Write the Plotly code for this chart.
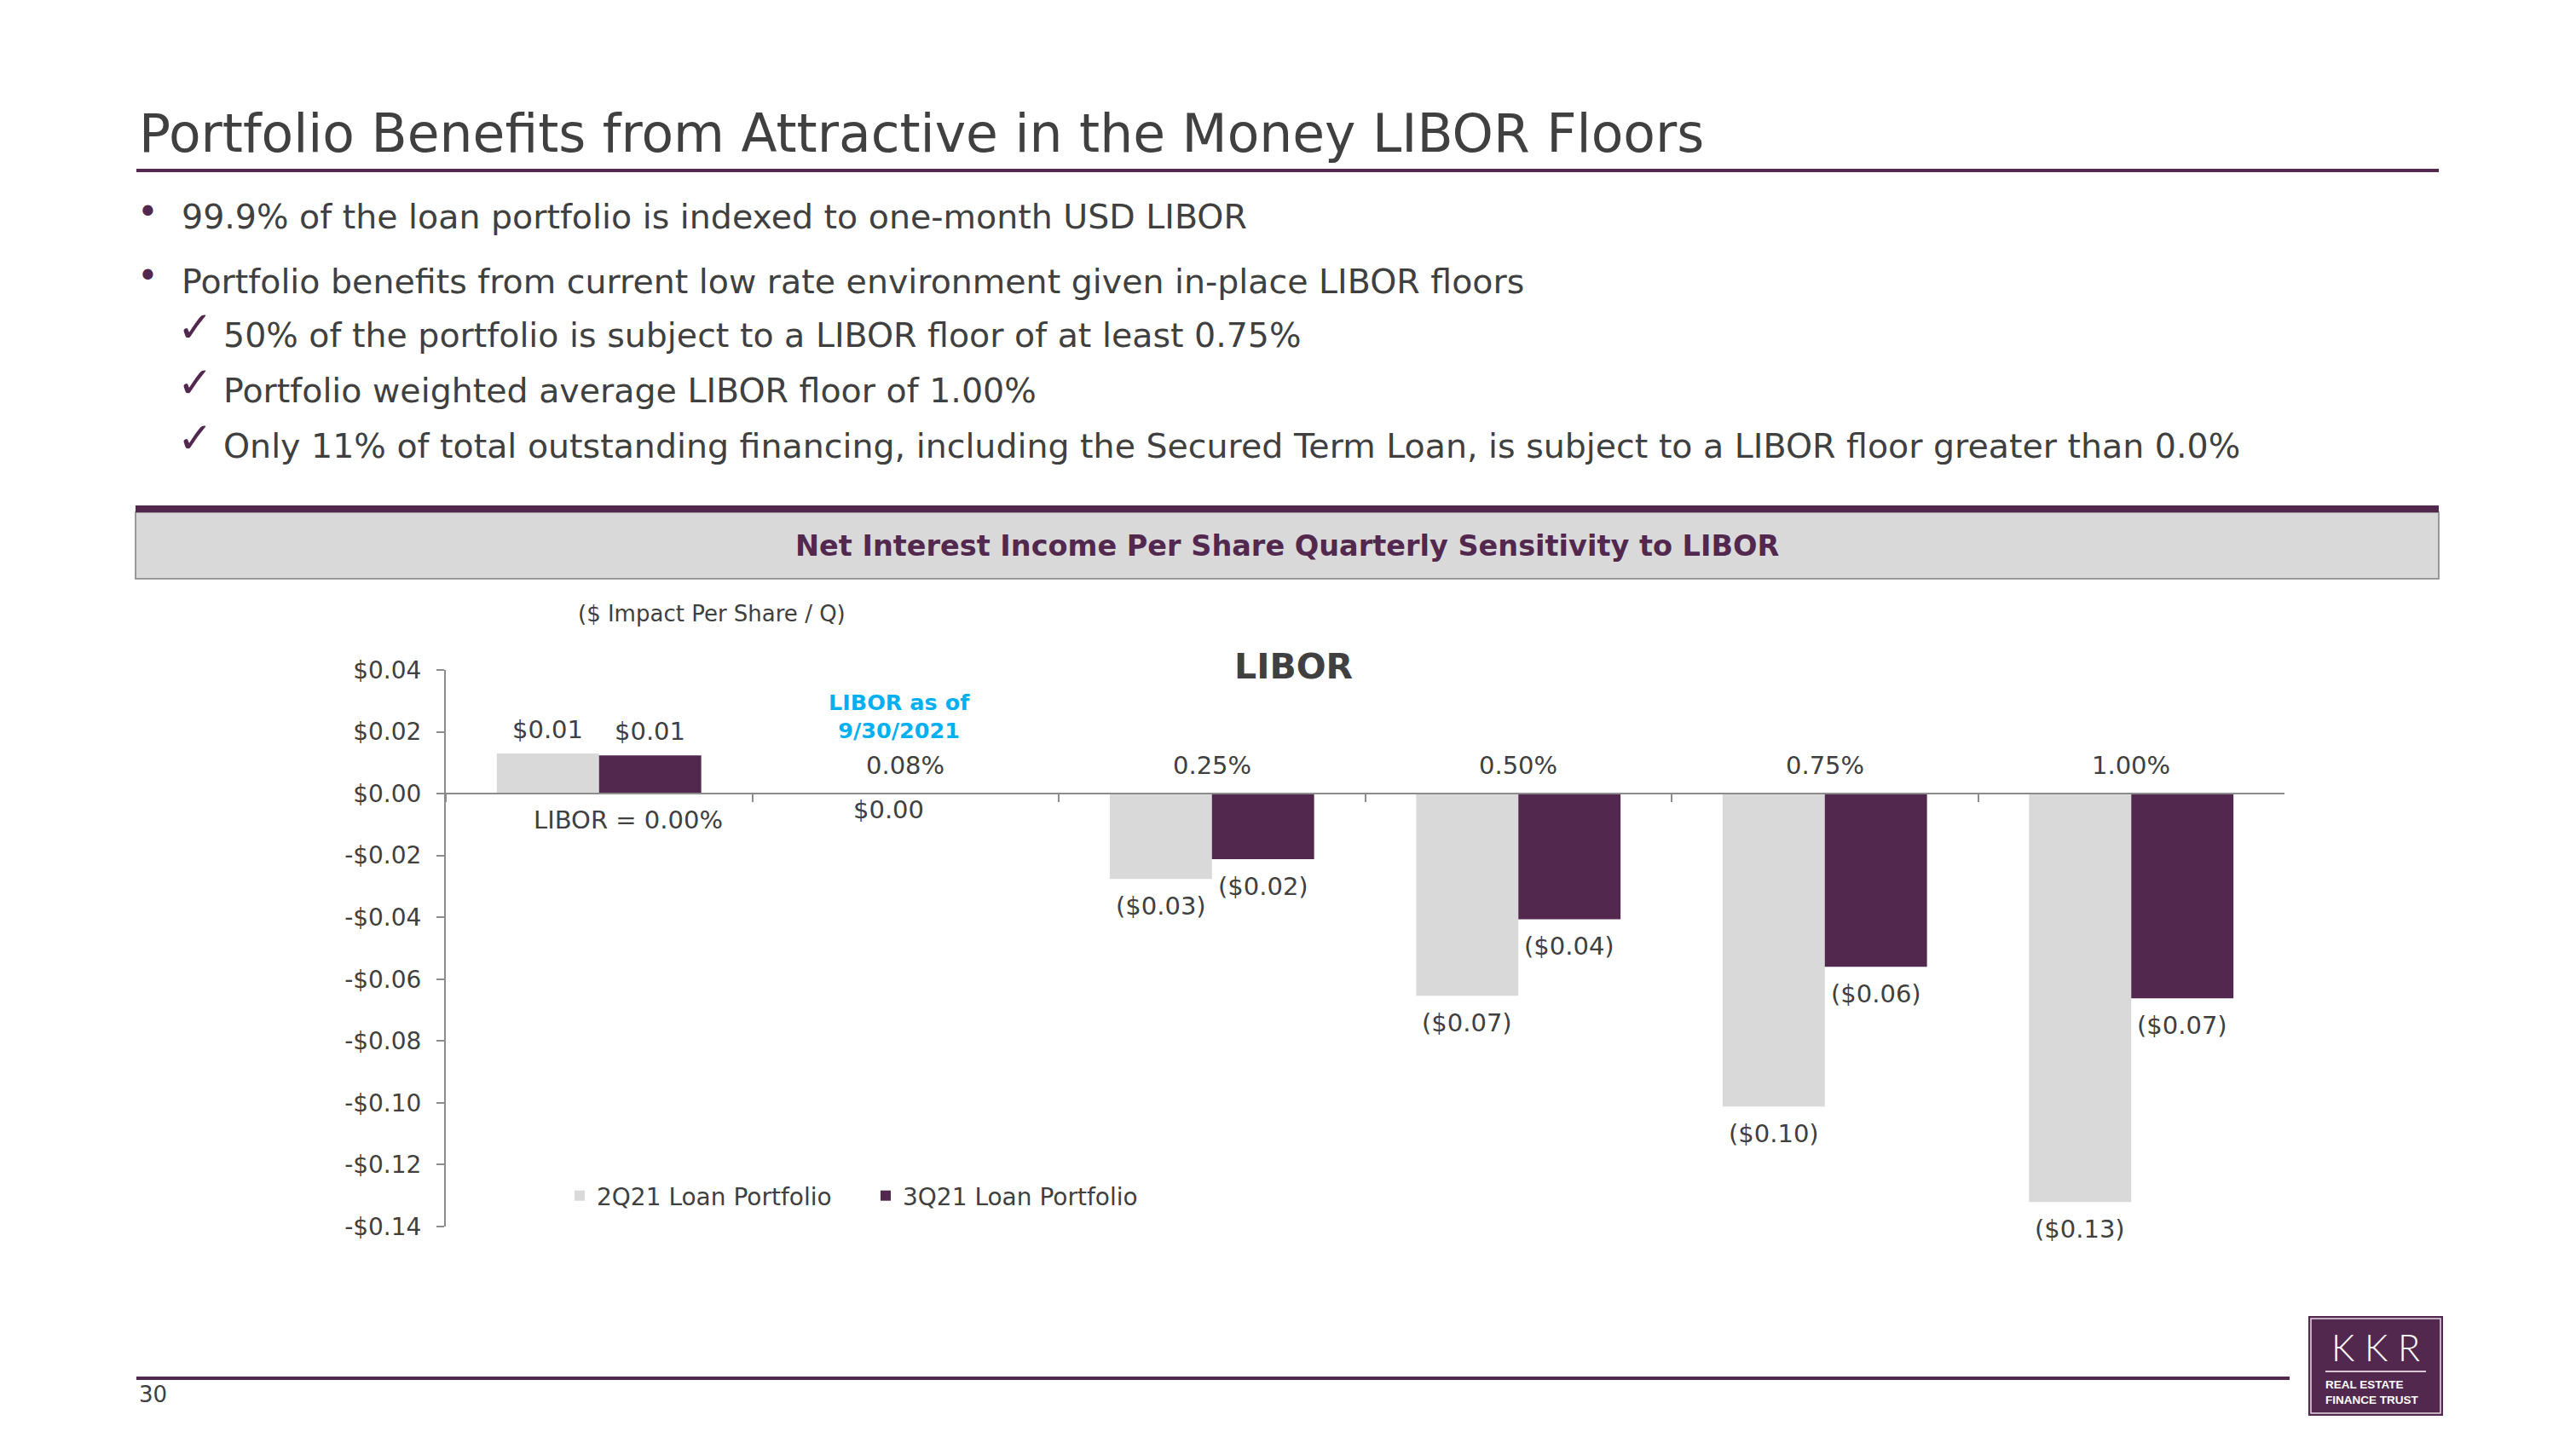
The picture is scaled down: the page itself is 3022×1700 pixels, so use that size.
import plotly.graph_objects as go

W, H = 3022, 1700
PURPLE = "#52284E"
GRAY_BAR = "#D9D9D9"
TEXT = "#404040"
BLUE = "#00B0F0"
AXIS = "#8C8C8C"
FONT = "DejaVu Sans"

# ---------------- data ----------------
categories = ["LIBOR = 0.00%", "0.08%", "0.25%", "0.50%", "0.75%", "1.00%"]
series_names = ["2Q21 Loan Portfolio", "3Q21 Loan Portfolio"]
q2_values = [0.0130, 0.0, -0.0276, -0.0654, -0.1012, -0.1321]
q3_values = [0.0124, 0.0, -0.0212, -0.0406, -0.0560, -0.0662]
q2_labels = ["$0.01", "$0.00", "($0.03)", "($0.07)", "($0.10)", "($0.13)"]
q3_labels = ["$0.01", "$0.00", "($0.02)", "($0.04)", "($0.06)", "($0.07)"]
y_tick_values = [0.04, 0.02, 0.0, -0.02, -0.04, -0.06, -0.08, -0.10, -0.12, -0.14]
y_tick_labels = ["$0.04", "$0.02", "$0.00", "-$0.02", "-$0.04", "-$0.06",
                 "-$0.08", "-$0.10", "-$0.12", "-$0.14"]
y_range = [-0.14, 0.04]

slide_title = "Portfolio Benefits from Attractive in the Money LIBOR Floors"
bullets = ["99.9% of the loan portfolio is indexed to one-month USD LIBOR",
           "Portfolio benefits from current low rate environment given in-place LIBOR floors"]
checks = ["50% of the portfolio is subject to a LIBOR floor of at least 0.75%",
          "Portfolio weighted average LIBOR floor of 1.00%",
          "Only 11% of total outstanding financing, including the Secured Term Loan, is subject to a LIBOR floor greater than 0.0%"]
panel_title = "Net Interest Income Per Share Quarterly Sensitivity to LIBOR"
unit_note = "($ Impact Per Share / Q)"
chart_title = "LIBOR"
current_note = "LIBOR as of<br>9/30/2021"
current_category = "0.08%"
page_number = "30"


def px(x):
    return x / W


def py(y):
    return 1 - y / H


def note(x, y, text, size, color=TEXT, xanchor="center", family=FONT, weight="normal", **kw):
    d = dict(x=px(x), y=py(y), xref="paper", yref="paper", text=text, showarrow=False,
             xanchor=xanchor, yanchor="middle",
             font=dict(size=size, color=color, family=family, weight=weight))
    d.update(kw)
    return d


# chart placement (pixels)
X0, X1 = 523, 2680
Y_TOP, Y_BOT = 786, 1439
y_dom = [py(Y_BOT), py(Y_TOP)]
zero_pos = y_dom[0] + (0 - y_range[0]) / (y_range[1] - y_range[0]) * (y_dom[1] - y_dom[0])

fig = go.Figure()
fig.add_trace(go.Bar(x=categories, y=q2_values, name=series_names[0],
                     marker=dict(color=GRAY_BAR, line=dict(width=0))))
fig.add_trace(go.Bar(x=categories, y=q3_values, name=series_names[1],
                     marker=dict(color=PURPLE, line=dict(width=0))))

LBL = 29
ann = []
# bar value labels
for i, c in enumerate(categories):
    a, b = q2_values[i], q3_values[i]
    if a == 0 and b == 0:
        ann.append(dict(x=c, y=0, xref="x", yref="y", text=q2_labels[i], showarrow=False,
                        xanchor="center", yanchor="middle", yshift=-19, xshift=-20,
                        font=dict(size=LBL, color=TEXT, family=FONT)))
        continue
    for v, lab, xs in ((a, q2_labels[i], -60), (b, q3_labels[i], 60)):
        ann.append(dict(x=c, y=v, xref="x", yref="y", text=lab, showarrow=False,
                        xanchor="center", yanchor="middle",
                        xshift=xs, yshift=28 if v > 0 else -32,
                        font=dict(size=LBL, color=TEXT, family=FONT)))
# category labels next to the zero line
for i, c in enumerate(categories):
    below = max(q2_values[i], q3_values[i]) > 0
    ann.append(dict(x=c, y=0, xref="x", yref="y", text=c, showarrow=False,
                    xanchor="center", yanchor="middle",
                    xshift=34 if below else 0, yshift=-31 if below else 33,
                    font=dict(size=LBL, color=TEXT, family=FONT)))
# current LIBOR callout
ann.append(dict(x=current_category, y=0, xref="x", yref="y", text=current_note, showarrow=False,
                xanchor="center", yanchor="middle", xshift=-7, yshift=91,
                font=dict(size=25.5, color=BLUE, family=FONT, weight="bold")))
# chart title and unit note
ann.append(note(1517, 782, chart_title, 41, weight="bold"))
ann.append(note(835, 720, unit_note, 26))
# slide title
ann.append(note(161, 157, slide_title, 61.5, xanchor="left"))
# bullets
for t, yy in zip(bullets, (254, 330)):
    ann.append(note(173, yy - 6, "•", 42, color=PURPLE))
    ann.append(note(211, yy, t, 39.5, xanchor="left"))
for t, yy in zip(checks, (393, 458, 523)):
    ann.append(note(206, yy - 9, "✓", 50, color=PURPLE, xanchor="left"))
    ann.append(note(260, yy, t, 39.5, xanchor="left"))
# panel header
ann.append(note(1510, 640, panel_title, 33.5, color=PURPLE, weight="bold"))
# page number
ann.append(note(161, 1636, page_number, 26, xanchor="left"))
# logo text
ann.append(note(2787, 1580, "K K R", 43, color="white", family="Lato", weight=300))
ann.append(note(2726, 1633, "REAL ESTATE<br>FINANCE TRUST", 13.5, color="white",
                xanchor="left", family="Liberation Sans", weight="bold", align="left"))

shapes = [
    dict(type="line", xref="paper", yref="paper", x0=px(160), x1=px(2861), y0=py(200), y1=py(200),
         line=dict(color=PURPLE, width=4)),
    dict(type="rect", xref="paper", yref="paper", x0=px(159), x1=px(2861), y0=py(601), y1=py(679),
         fillcolor=GRAY_BAR, line=dict(color="#7F7F7F", width=1.5)),
    dict(type="rect", xref="paper", yref="paper", x0=px(159), x1=px(2861), y0=py(593), y1=py(601),
         fillcolor=PURPLE, line=dict(width=0)),
    dict(type="line", xref="paper", yref="paper", x0=px(160), x1=px(2686), y0=py(1617), y1=py(1617),
         line=dict(color=PURPLE, width=4)),
    dict(type="rect", xref="paper", yref="paper", x0=px(2708), x1=px(2866), y0=py(1544), y1=py(1661),
         fillcolor=PURPLE, line=dict(width=0)),
    dict(type="rect", xref="paper", yref="paper", x0=px(2711), x1=px(2863), y0=py(1547), y1=py(1658),
         line=dict(color="#E6DAE4", width=1.5)),
    dict(type="line", xref="paper", yref="paper", x0=px(2728), x1=px(2846), y0=py(1609), y1=py(1609),
         line=dict(color="#D9C7D6", width=2)),
]

fig.update_layout(
    width=W, height=H, margin=dict(l=0, r=0, t=0, b=0, autoexpand=False),
    paper_bgcolor="white", plot_bgcolor="white",
    font=dict(family=FONT, color=TEXT, size=28),
    barmode="group", bargap=0.333, bargroupgap=0,
    showlegend=True,
    legend=dict(orientation="h", x=px(660), y=py(1403), xanchor="left", yanchor="middle",
                font=dict(size=28, color=TEXT, family=FONT), bgcolor="rgba(0,0,0,0)",
                traceorder="normal", entrywidth=314, entrywidthmode="pixels"),
    xaxis=dict(type="category", domain=[px(X0), px(X1)], anchor="free", position=zero_pos,
               showline=True, linecolor=AXIS, linewidth=2, ticks="outside", tickson="boundaries",
               ticklen=9, tickwidth=2, tickcolor=AXIS, showticklabels=False, showgrid=False,
               zeroline=False, fixedrange=True),
    yaxis=dict(domain=y_dom, range=y_range, anchor="x", showline=True, linecolor=AXIS, linewidth=2,
               ticks="outside", ticklen=9, tickwidth=2, tickcolor=AXIS,
               tickvals=y_tick_values, ticktext=y_tick_labels, ticklabelstandoff=12,
               tickfont=dict(size=28, color=TEXT, family=FONT), showgrid=False, zeroline=False),
    annotations=ann, shapes=shapes,
)

fig.write_html("out.html", config={"displayModeBar": False},
               post_script="document.body.style.margin='0';document.body.style.overflow='hidden';")
